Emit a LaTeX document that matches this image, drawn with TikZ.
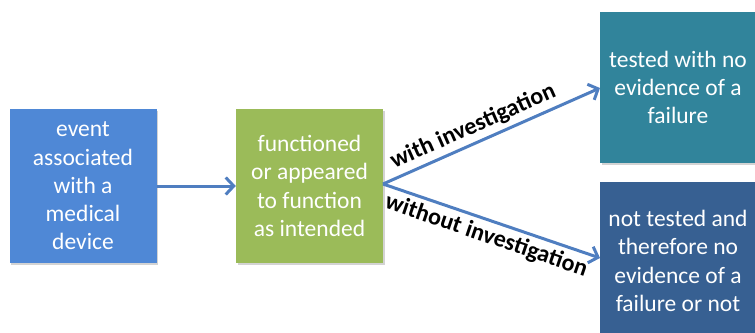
\documentclass[tikz,border=0pt]{standalone}
\usepackage{fontspec}
\setmainfont{Carlito}
\usetikzlibrary{arrows.meta,shadows}
\definecolor{cblue}{HTML}{4F88D6}
\definecolor{cgreen}{HTML}{9BBB59}
\definecolor{cteal}{HTML}{31849B}
\definecolor{cnavy}{HTML}{376092}
\definecolor{carrow}{HTML}{4F7EC0}
\tikzset{
  box/.style={draw=none, minimum width=147pt, inner sep=0pt, align=center,
    text=white, font=\fontsize{23.5}{28.3}\selectfont,
    drop shadow={shadow xshift=1.5pt, shadow yshift=-2pt, opacity=0.35}},
  conn/.style={draw=carrow, line width=3pt, -{Straight Barb[length=8pt,width=17pt,line width=3pt]}},
  lbl/.style={font=\fontsize{24}{26}\selectfont\bfseries, text=black, sloped, inner sep=4pt}
}
\begin{document}
\begin{tikzpicture}[x=1pt,y=-1pt]
\useasboundingbox (0,0) rectangle (755,332);
\clip (0,0) rectangle (755,332);
\node[box, fill=cblue, minimum height=154pt] (a) at (83,186) {event\\associated\\with a\\medical\\device};
\node[box, fill=cgreen, minimum height=154pt] (b) at (309.5,186) {functioned\\or appeared\\to function\\as intended};
\node[box, fill=cteal, minimum width=156pt, minimum height=151pt] (c) at (678,87.5) {tested with no\\evidence of a\\failure};
\node[box, fill=cnavy, minimum width=156pt, minimum height=158pt] (d) at (678,261) {not tested and\\therefore no\\evidence of a\\failure or not};
\coordinate (bs) at (383,184);
\coordinate (ce) at (600,88);
\coordinate (de) at (600,258);
\draw[conn] (a.east |- 0,186) -- (b.west |- 0,186);
\draw[conn] (bs) -- node[lbl, pos=0.445, above] {with investigation} (ce);
\draw[conn] (bs) -- node[lbl, pos=0.5, below] {without investigation} (de);
\end{tikzpicture}
\end{document}
